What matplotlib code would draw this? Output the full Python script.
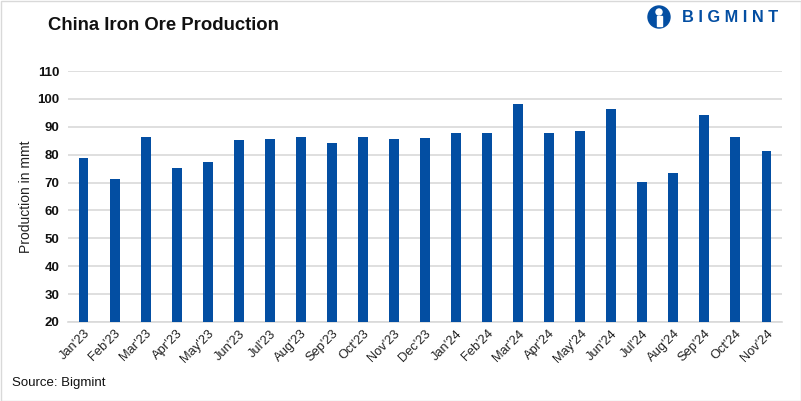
import numpy as np
import matplotlib
matplotlib.use("Agg")
from matplotlib import pyplot as plt
from matplotlib.patches import Circle, Rectangle

plt.rcParams['font.family'] = ['Liberation Sans', 'DejaVu Sans']

months = ["Jan'23", "Feb'23", "Mar'23", "Apr'23", "May'23", "Jun'23", "Jul'23", "Aug'23",
          "Sep'23", "Oct'23", "Nov'23", "Dec'23", "Jan'24", "Feb'24", "Mar'24", "Apr'24",
          "May'24", "Jun'24", "Jul'24", "Aug'24", "Sep'24", "Oct'24", "Nov'24"]
production = [78.8, 71.3, 86.3, 75.2, 77.4, 85.3, 85.6, 86.3, 84.2, 86.3, 85.6, 86.0,
              87.8, 87.8, 98.2, 87.8, 88.5, 96.4, 70.2, 73.4, 94.2, 86.3, 81.3]
yticks = [20, 30, 40, 50, 60, 70, 80, 90, 100, 110]

bar_color = '#034EA2'

fig = plt.figure(figsize=(8.01, 4.01), dpi=100)
ax = fig.add_axes([68 / 801, 1 - 322 / 401, 714 / 801, 251 / 401])

x = np.arange(len(months))
ax.bar(x, production, width=0.32, color=bar_color, zorder=3)
ax.set_xlim(-0.5, len(months) - 0.5)
ax.set_ylim(20, 110)
ax.set_yticks(yticks)
ax.set_yticklabels([str(t) for t in yticks], fontsize=9.5, fontweight='bold', color='#111111')
ax.set_xticks(x)
ax.set_xticklabels(months, rotation=45, ha='right', rotation_mode='anchor',
                   fontsize=9.3, color='#222222')
ax.tick_params(axis='both', length=0, pad=6)
ax.tick_params(axis='x', pad=4)
ax.grid(axis='y', color='#d9d9d9', linewidth=1.2, zorder=0)
for s in ['top', 'right', 'left']:
    ax.spines[s].set_visible(False)
ax.spines['bottom'].set_color('#d9d9d9')
ax.spines['bottom'].set_linewidth(1.2)
ax.set_ylabel('Production in mmt', fontsize=10, color='#222222', labelpad=3)

fig.text(48 / 801, 1 - 25 / 401, 'China Iron Ore Production', fontsize=13.3,
         fontweight='bold', va='center', ha='left', color='#111111')
fig.text(12 / 801, 1 - 383 / 401, 'Source: Bigmint', fontsize=9.5, va='center',
         ha='left', color='#111111')

# logo
logo = fig.add_axes([0, 0, 1, 1], zorder=5)
logo.set_xlim(0, 801)
logo.set_ylim(401, 0)
logo.axis('off')
logo.add_patch(Circle((659, 17), 11, color=bar_color))
logo.add_patch(Circle((659, 12), 3, color='white'))
logo.add_patch(Rectangle((656.5, 16), 5, 10, color='white'))
logo.text(682, 18, 'B I G M I N T', fontsize=11.8, fontweight='bold', color=bar_color,
          va='center', ha='left')

# border
logo.add_patch(Rectangle((0.5, 0.5), 800, 400, fill=False, edgecolor='#d9d9d9', linewidth=1))

fig.savefig('out.png', dpi=100)
